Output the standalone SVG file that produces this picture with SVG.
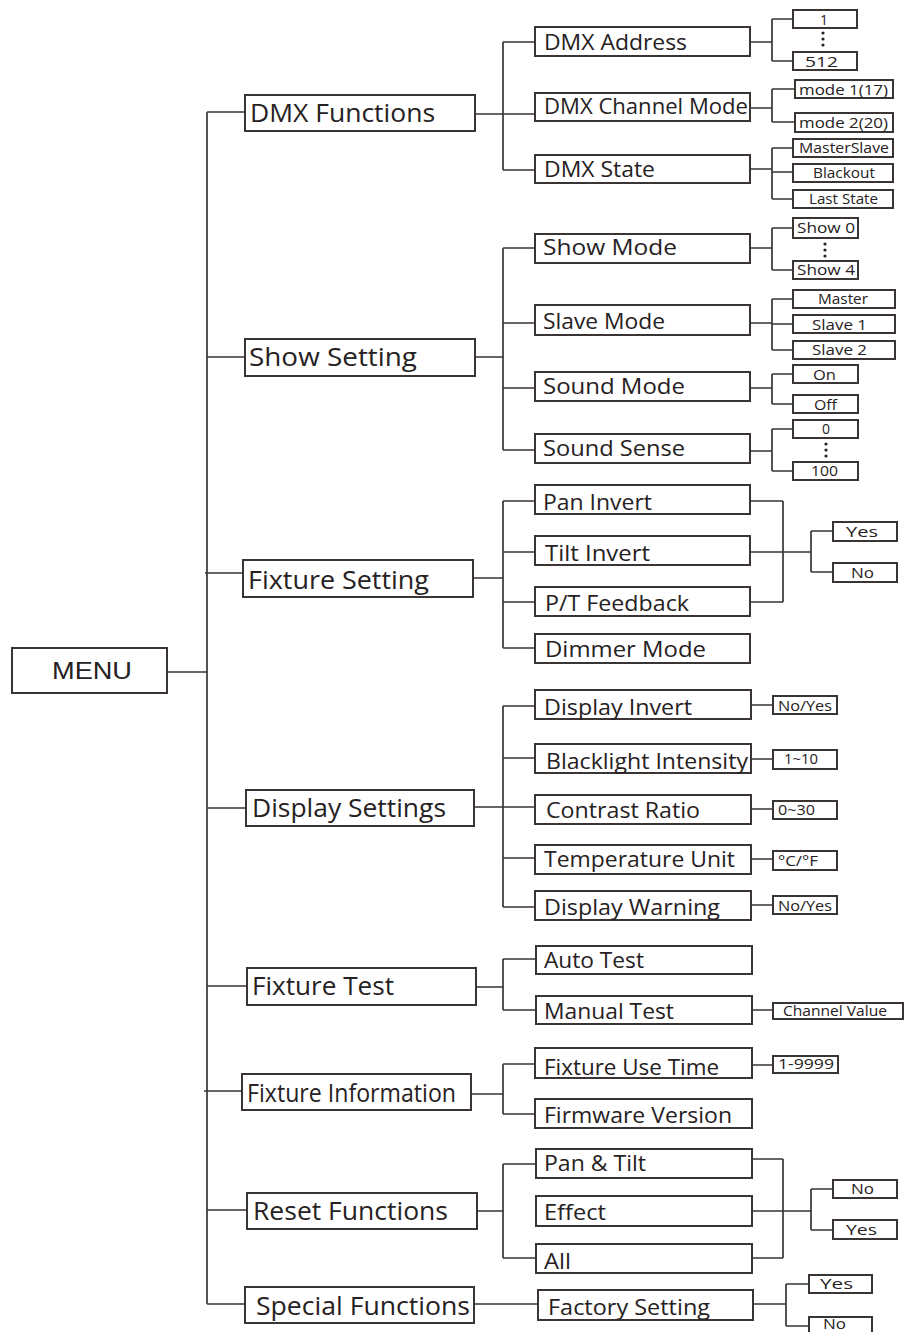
<svg xmlns="http://www.w3.org/2000/svg" width="913" height="1332" viewBox="0 0 913 1332">
<style>
.b{fill:#fff;stroke:#3a3435;stroke-width:2}
.c path{fill:none;stroke:#3a3435;stroke-width:1.7}
text{font-family:"Open Sans","Noto Sans",sans-serif;fill:#262122}
.t0{font-family:"Liberation Sans",Arial,sans-serif;font-size:24px}
.t1{font-size:25px}
.t2{font-size:21px}
.t3{font-size:14px}
.d{fill:#262122}
</style>
<rect width="913" height="1332" fill="#fff"/>
<g id="connectors" class="c">
<path d="M167 672H207M207 112V1304M207 112H245M207 357H245M205 573H243M207 808H246M207 986H247M204 1091H242M207 1210H247M207 1304H245"/>
<path d="M475 114H535M503 42V170M503 42H535M503 170H535"/>
<path d="M750 42H772M772 19V61M772 19H793M772 61H793"/>
<path d="M750 108H772M772 89V122M772 89H795M772 122H795"/>
<path d="M750 169H772M772 148V199M772 148H793M772 172H793M772 199H793"/>
<path d="M475 357H503M503 248V450M503 248H535M503 323H535M503 388H535M503 450H535"/>
<path d="M750 248H772M772 228V270M772 228H793M772 270H793"/>
<path d="M750 323H772M772 299V350M772 299H793M772 324H793M772 350H793"/>
<path d="M750 388H772M772 374V404M772 374H793M772 404H793"/>
<path d="M750 451H772M772 429V471M772 429H793M772 471H793"/>
<path d="M473 578H503M503 501V648M503 501H535M503 552H535M503 602H535M503 648H535"/>
<path d="M750 501H783M750 552H811M750 602H783M783 501V602M811 531V572M811 531H833M811 572H833"/>
<path d="M474 807H503M503 706V907M503 706H535M503 758H535M503 807H535M503 858H535M503 907H535"/>
<path d="M751 705H773M751 759H773M751 809H773M751 859H773M751 905H773"/>
<path d="M476 987H503M503 959V1010M503 959H536M503 1010H536M752 1010H773"/>
<path d="M471 1094H503M503 1064V1114M503 1064H535M503 1114H535M752 1065H773"/>
<path d="M477 1211H503M503 1164V1258M503 1164H536M503 1258H536"/>
<path d="M752 1159H783M752 1211H811M752 1258H783M783 1159V1258M811 1189V1230M811 1189H833M811 1230H833"/>
<path d="M474 1304H538M753 1304H786M786 1284V1326M786 1284H809M786 1326H809"/>
</g>
<g id="menu"><rect class="b" x="12" y="648" width="155" height="45"/><text class="t0" x="52" y="679" textLength="80" lengthAdjust="spacingAndGlyphs">MENU</text></g>

<g id="dmx-functions"><rect class="b" x="245" y="95" width="230" height="36"/><text class="t1" x="250" y="122" textLength="185" lengthAdjust="spacingAndGlyphs">DMX Functions</text></g>
<g id="show-setting"><rect class="b" x="245" y="339" width="230" height="37"/><text class="t1" x="249" y="366" textLength="168" lengthAdjust="spacingAndGlyphs">Show  Setting</text></g>
<g id="fixture-setting"><rect class="b" x="243" y="560" width="230" height="37"/><text class="t1" x="248" y="589" textLength="181" lengthAdjust="spacingAndGlyphs">Fixture Setting</text></g>
<g id="display-settings"><rect class="b" x="246" y="790" width="228" height="36"/><text class="t1" x="252" y="817" textLength="194" lengthAdjust="spacingAndGlyphs">Display Settings</text></g>
<g id="fixture-test"><rect class="b" x="247" y="968" width="229" height="37"/><text class="t1" x="252" y="995" textLength="142" lengthAdjust="spacingAndGlyphs">Fixture Test</text></g>
<g id="fixture-information"><rect class="b" x="242" y="1074" width="229" height="36"/><text class="t1" x="247" y="1102" textLength="209" lengthAdjust="spacingAndGlyphs">Fixture Information</text></g>
<g id="reset-functions"><rect class="b" x="247" y="1193" width="230" height="36"/><text class="t1" x="253" y="1220" textLength="195" lengthAdjust="spacingAndGlyphs">Reset Functions</text></g>
<g id="special-functions"><rect class="b" x="245" y="1287" width="229" height="36"/><text class="t1" x="256" y="1315" textLength="214" lengthAdjust="spacingAndGlyphs">Special Functions</text></g>

<g id="dmx-address"><rect class="b" x="535" y="27" width="215" height="29"/><text class="t2" x="544" y="50" textLength="143" lengthAdjust="spacingAndGlyphs">DMX Address</text></g>
<g id="dmx-channel-mode"><rect class="b" x="535" y="93" width="215" height="28"/><text class="t2" x="544" y="114" textLength="204" lengthAdjust="spacingAndGlyphs">DMX  Channel Mode</text></g>
<g id="dmx-state"><rect class="b" x="535" y="155" width="215" height="28"/><text class="t2" x="544" y="177" textLength="111" lengthAdjust="spacingAndGlyphs">DMX State</text></g>
<g id="show-mode"><rect class="b" x="535" y="234" width="215" height="29"/><text class="t2" x="543" y="255" textLength="134" lengthAdjust="spacingAndGlyphs">Show  Mode</text></g>
<g id="slave-mode"><rect class="b" x="535" y="305" width="215" height="30"/><text class="t2" x="543" y="329" textLength="122" lengthAdjust="spacingAndGlyphs">Slave  Mode</text></g>
<g id="sound-mode"><rect class="b" x="535" y="372" width="215" height="29"/><text class="t2" x="543" y="394" textLength="142" lengthAdjust="spacingAndGlyphs">Sound  Mode</text></g>
<g id="sound-sense"><rect class="b" x="535" y="434" width="215" height="29"/><text class="t2" x="543" y="456" textLength="142" lengthAdjust="spacingAndGlyphs">Sound  Sense</text></g>
<g id="pan-invert"><rect class="b" x="535" y="485" width="215" height="29"/><text class="t2" x="543" y="510" textLength="109" lengthAdjust="spacingAndGlyphs">Pan Invert</text></g>
<g id="tilt-invert"><rect class="b" x="535" y="536" width="215" height="29"/><text class="t2" x="545" y="561" textLength="105" lengthAdjust="spacingAndGlyphs">Tilt Invert</text></g>
<g id="pt-feedback"><rect class="b" x="535" y="587" width="215" height="29"/><text class="t2" x="545" y="611" textLength="144" lengthAdjust="spacingAndGlyphs">P/T Feedback</text></g>
<g id="dimmer-mode"><rect class="b" x="535" y="634" width="215" height="29"/><text class="t2" x="545" y="657" textLength="161" lengthAdjust="spacingAndGlyphs">Dimmer  Mode</text></g>
<g id="display-invert"><rect class="b" x="535" y="690" width="216" height="29"/><text class="t2" x="544" y="715" textLength="148" lengthAdjust="spacingAndGlyphs">Display Invert</text></g>
<g id="blacklight-intensity"><rect class="b" x="535" y="744" width="216" height="29"/><text class="t2" x="546" y="769" textLength="202" lengthAdjust="spacingAndGlyphs">Blacklight Intensity</text></g>
<g id="contrast-ratio"><rect class="b" x="535" y="795" width="216" height="29"/><text class="t2" x="546" y="818" textLength="154" lengthAdjust="spacingAndGlyphs">Contrast Ratio</text></g>
<g id="temperature-unit"><rect class="b" x="535" y="845" width="216" height="29"/><text class="t2" x="544" y="867" textLength="191" lengthAdjust="spacingAndGlyphs">Temperature Unit</text></g>
<g id="display-warning"><rect class="b" x="535" y="891" width="216" height="29"/><text class="t2" x="544" y="915" textLength="176" lengthAdjust="spacingAndGlyphs">Display Warning</text></g>
<g id="auto-test"><rect class="b" x="536" y="946" width="216" height="28"/><text class="t2" x="544" y="968" textLength="100" lengthAdjust="spacingAndGlyphs">Auto Test</text></g>
<g id="manual-test"><rect class="b" x="536" y="996" width="216" height="28"/><text class="t2" x="544" y="1019" textLength="130" lengthAdjust="spacingAndGlyphs">Manual Test</text></g>
<g id="fixture-use-time"><rect class="b" x="535" y="1048" width="217" height="30"/><text class="t2" x="544" y="1075" textLength="175" lengthAdjust="spacingAndGlyphs">Fixture Use Time</text></g>
<g id="firmware-version"><rect class="b" x="535" y="1099" width="217" height="29"/><text class="t2" x="544" y="1123" textLength="188" lengthAdjust="spacingAndGlyphs">Firmware Version</text></g>
<g id="pan-tilt"><rect class="b" x="536" y="1149" width="216" height="29"/><text class="t2" x="544" y="1171" textLength="102" lengthAdjust="spacingAndGlyphs">Pan &amp; Tilt</text></g>
<g id="effect"><rect class="b" x="536" y="1196" width="216" height="30"/><text class="t2" x="544" y="1220" textLength="62" lengthAdjust="spacingAndGlyphs">Effect</text></g>
<g id="all"><rect class="b" x="536" y="1244" width="216" height="29"/><text class="t2" x="544" y="1269" textLength="27" lengthAdjust="spacingAndGlyphs">All</text></g>
<g id="factory-setting"><rect class="b" x="538" y="1290" width="215" height="30"/><text class="t2" x="548" y="1315" textLength="162" lengthAdjust="spacingAndGlyphs">Factory Setting</text></g>

<g id="addr-1"><rect class="b" x="793" y="10" width="64" height="18"/><text class="t3" x="820" y="25">1</text></g>
<g id="addr-dots"><circle class="d" cx="823" cy="33" r="1.6"/><circle class="d" cx="823" cy="39" r="1.6"/><circle class="d" cx="823" cy="45" r="1.6"/></g>
<g id="addr-512"><rect class="b" x="793" y="52" width="64" height="18"/><text class="t3" x="805" y="67" textLength="33" lengthAdjust="spacingAndGlyphs">512</text></g>
<g id="mode1"><rect class="b" x="795" y="80" width="98" height="18"/><text class="t3" x="799" y="95" textLength="89" lengthAdjust="spacingAndGlyphs">mode 1(17)</text></g>
<g id="mode2"><rect class="b" x="795" y="113" width="98" height="19"/><text class="t3" x="799" y="128" textLength="89" lengthAdjust="spacingAndGlyphs">mode 2(20)</text></g>
<g id="masterslave"><rect class="b" x="793" y="139" width="100" height="18"/><text class="t3" x="799" y="153" textLength="90" lengthAdjust="spacingAndGlyphs">MasterSlave</text></g>
<g id="blackout"><rect class="b" x="793" y="164" width="100" height="18"/><text class="t3" x="813" y="178" textLength="62" lengthAdjust="spacingAndGlyphs">Blackout</text></g>
<g id="last-state"><rect class="b" x="793" y="190" width="100" height="18"/><text class="t3" x="809" y="204" textLength="69" lengthAdjust="spacingAndGlyphs">Last State</text></g>
<g id="show0"><rect class="b" x="793" y="218" width="65" height="20"/><text class="t3" x="797" y="233" textLength="58" lengthAdjust="spacingAndGlyphs">Show  0</text></g>
<g id="show-dots"><circle class="d" cx="825" cy="244" r="1.6"/><circle class="d" cx="825" cy="250" r="1.6"/><circle class="d" cx="825" cy="256" r="1.6"/></g>
<g id="show4"><rect class="b" x="793" y="261" width="65" height="18"/><text class="t3" x="797" y="275" textLength="58" lengthAdjust="spacingAndGlyphs">Show  4</text></g>
<g id="master"><rect class="b" x="793" y="290" width="102" height="18"/><text class="t3" x="818" y="304" textLength="50" lengthAdjust="spacingAndGlyphs">Master</text></g>
<g id="slave1"><rect class="b" x="793" y="315" width="102" height="18"/><text class="t3" x="812" y="330" textLength="55" lengthAdjust="spacingAndGlyphs">Slave  1</text></g>
<g id="slave2"><rect class="b" x="793" y="341" width="102" height="18"/><text class="t3" x="812" y="355" textLength="55" lengthAdjust="spacingAndGlyphs">Slave  2</text></g>
<g id="on"><rect class="b" x="793" y="365" width="65" height="18"/><text class="t3" x="813" y="380" textLength="23" lengthAdjust="spacingAndGlyphs">On</text></g>
<g id="off"><rect class="b" x="793" y="395" width="65" height="18"/><text class="t3" x="814" y="410" textLength="23" lengthAdjust="spacingAndGlyphs">Off</text></g>
<g id="sense-0"><rect class="b" x="793" y="420" width="65" height="18"/><text class="t3" x="822" y="434">0</text></g>
<g id="sense-dots"><circle class="d" cx="826" cy="444" r="1.6"/><circle class="d" cx="826" cy="450" r="1.6"/><circle class="d" cx="826" cy="456" r="1.6"/></g>
<g id="sense-100"><rect class="b" x="793" y="462" width="65" height="18"/><text class="t3" x="811" y="476" textLength="27" lengthAdjust="spacingAndGlyphs">100</text></g>
<g id="fix-yes"><rect class="b" x="833" y="522" width="64" height="19"/><text class="t3" x="846" y="537" textLength="32" lengthAdjust="spacingAndGlyphs">Yes</text></g>
<g id="fix-no"><rect class="b" x="833" y="563" width="64" height="19"/><text class="t3" x="851" y="578" textLength="23" lengthAdjust="spacingAndGlyphs">No</text></g>
<g id="disp-inv-val"><rect class="b" x="773" y="696" width="64" height="18"/><text class="t3" x="778" y="711" textLength="54" lengthAdjust="spacingAndGlyphs">No/Yes</text></g>
<g id="blacklight-val"><rect class="b" x="773" y="750" width="64" height="19"/><text class="t3" x="784" y="764" textLength="34" lengthAdjust="spacingAndGlyphs">1~10</text></g>
<g id="contrast-val"><rect class="b" x="773" y="801" width="64" height="18"/><text class="t3" x="778" y="815" textLength="37" lengthAdjust="spacingAndGlyphs">0~30</text></g>
<g id="temp-val"><rect class="b" x="773" y="851" width="64" height="19"/><text class="t3" x="778" y="866" textLength="40" lengthAdjust="spacingAndGlyphs">°C/°F</text></g>
<g id="warn-val"><rect class="b" x="773" y="896" width="64" height="18"/><text class="t3" x="778" y="911" textLength="54" lengthAdjust="spacingAndGlyphs">No/Yes</text></g>
<g id="channel-value"><rect class="b" x="773" y="1003" width="130" height="16"/><text class="t3" x="783" y="1016" textLength="104" lengthAdjust="spacingAndGlyphs">Channel Value</text></g>
<g id="use-time-val"><rect class="b" x="773" y="1056" width="65" height="17"/><text class="t3" x="778" y="1069" textLength="56" lengthAdjust="spacingAndGlyphs">1-9999</text></g>
<g id="reset-no"><rect class="b" x="833" y="1180" width="64" height="18"/><text class="t3" x="851" y="1194" textLength="23" lengthAdjust="spacingAndGlyphs">No</text></g>
<g id="reset-yes"><rect class="b" x="833" y="1220" width="64" height="19"/><text class="t3" x="846" y="1235" textLength="31" lengthAdjust="spacingAndGlyphs">Yes</text></g>
<g id="factory-yes"><rect class="b" x="809" y="1275" width="63" height="18"/><text class="t3" x="820" y="1289" textLength="33" lengthAdjust="spacingAndGlyphs">Yes</text></g>
<g id="factory-no"><rect class="b" x="809" y="1317" width="63" height="20"/><text class="t3" x="823" y="1329" font-size="13" textLength="23" lengthAdjust="spacingAndGlyphs">No</text></g>
</svg>
